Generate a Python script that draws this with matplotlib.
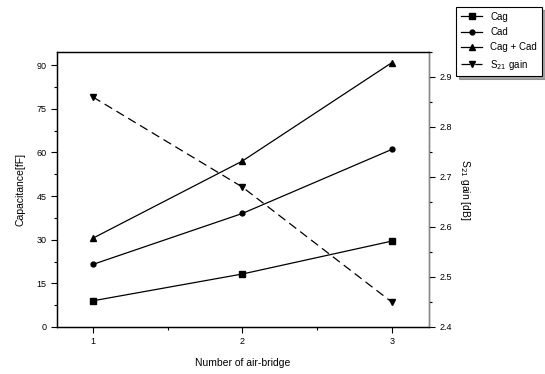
import matplotlib
matplotlib.use("Agg")
import matplotlib.pyplot as plt
from matplotlib.ticker import MultipleLocator

plt.rcParams['font.family'] = ['Liberation Sans', 'DejaVu Sans']

bridges = [1, 2, 3]
cag = [9.0, 18.2, 29.5]
cad = [21.5, 39.0, 61.0]
cag_cad = [30.5, 57.0, 90.8]
s21_gain = [2.86, 2.68, 2.45]

fig = plt.figure(figsize=(5.45, 3.74), dpi=100)
ax = fig.add_axes([0.1046, 0.1257, 0.6826, 0.7353])
ax2 = ax.twinx()

l1, = ax.plot(bridges, cag, color='black', lw=0.9, marker='s', ms=4, label='Cag')
l2, = ax.plot(bridges, cad, color='black', lw=0.9, marker='o', ms=3.5, label='Cad')
l3, = ax.plot(bridges, cag_cad, color='black', lw=0.9, marker='^', ms=5, label='Cag + Cad')
l4, = ax2.plot(bridges, s21_gain, color='black', lw=0.9, ls=(0, (7, 4)), marker='v', ms=5,
               label='S$_{21}$ gain')

ax.set_xlim(0.76, 3.25)
ax.set_ylim(0, 94.5)
ax2.set_ylim(2.4, 2.95)

ax.xaxis.set_major_locator(MultipleLocator(1))
ax.xaxis.set_minor_locator(MultipleLocator(0.5))
ax.yaxis.set_major_locator(MultipleLocator(15))
ax.yaxis.set_minor_locator(MultipleLocator(7.5))
ax2.yaxis.set_major_locator(MultipleLocator(0.1))
ax2.yaxis.set_minor_locator(MultipleLocator(0.05))

ax.tick_params(axis='both', which='both', labelsize=6.5, direction='out', width=0.8)
ax.tick_params(which='major', length=4)
ax.tick_params(which='minor', length=2.5)

ax2.tick_params(axis='y', which='both', labelsize=6.5, direction='out', width=0.8)
ax2.tick_params(axis='y', which='major', length=4)
ax2.tick_params(axis='y', which='minor', length=2.5)
ax2.tick_params(axis='x', which='both', top=True, bottom=False, labeltop=False,
                labelbottom=False, direction='in', width=0.8)
ax2.tick_params(axis='x', which='major', length=4)
ax2.tick_params(axis='x', which='minor', length=2.5)

for a in (ax, ax2):
    for s in a.spines.values():
        s.set_linewidth(0.9)
ax2.spines['right'].set_color('#888888')

ax.set_xlabel('Number of air-bridge', fontsize=7.5, labelpad=8)
ax.set_ylabel('Capacitance[fF]', fontsize=7.5, labelpad=8)
ax2.set_ylabel('S$_{21}$ gain [dB]', fontsize=7.5, rotation=270, labelpad=14)

leg = fig.legend(handles=[l1, l2, l3, l4], loc='upper left',
                 bbox_to_anchor=(0.828, 0.995), fontsize=7, frameon=True,
                 fancybox=False, shadow=True, edgecolor='black',
                 handlelength=2.2, borderpad=0.5, labelspacing=0.55)
leg.get_frame().set_linewidth(0.8)

fig.savefig('out.png', dpi=100)
